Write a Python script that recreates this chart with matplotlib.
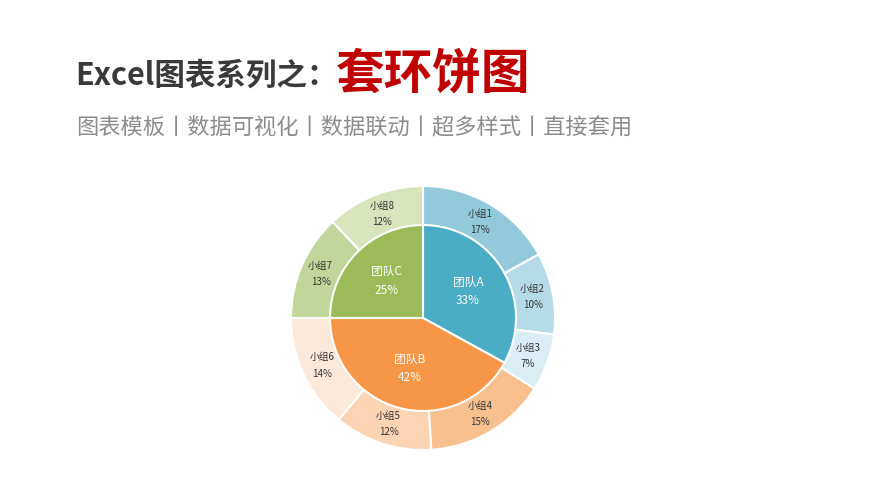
import matplotlib
matplotlib.use("Agg")
import matplotlib.pyplot as plt

plt.rcParams['font.family'] = ['Noto Sans CJK SC', 'DejaVu Sans']

teams = ["团队A", "团队B", "团队C"]
team_values = [33, 42, 25]
team_colors = ["#4BACC6", "#F79646", "#9BBB59"]

groups = ["小组1", "小组2", "小组3", "小组4", "小组5", "小组6", "小组7", "小组8"]
group_values = [17, 10, 7, 15, 12, 14, 13, 12]
group_colors = ["#92C9DB", "#B5DAE8", "#DAEDF4", "#F9C08F",
                "#FCD4B4", "#FDE9DA", "#C2D69C", "#D8E4BC"]

title_main = "Excel图表系列之："
title_red = "套环饼图"
subtitle = "图表模板丨数据可视化丨数据联动丨超多样式丨直接套用"

W, H = 889, 500
fig = plt.figure(figsize=(W / 100, H / 100), dpi=100)
fig.patch.set_facecolor("white")

# Titles
fig.text(75 / W, 1 - 76 / H, title_main, fontsize=22, fontweight="bold",
         color="#3A3A3A", ha="left", va="center")
fig.text(336 / W, 1 - 74 / H, title_red, fontsize=35, fontweight="bold",
         color="#C00000", ha="left", va="center")
fig.text(76 / W, 1 - 128 / H, subtitle, fontsize=16, color="#8C8C8C",
         ha="left", va="center")

# Pie axes: center (423, 318), outer radius 132 px
cx, cy, R = 423, 318, 132
ax = fig.add_axes([(cx - R) / W, (H - cy - R) / H, 2 * R / W, 2 * R / H])
ax.axis("off")

r_in = 93 / 132

wedges_o, texts_o = ax.pie(
    group_values, radius=1, startangle=90, counterclock=False,
    colors=group_colors,
    labels=[f"{g}\n{v}%" for g, v in zip(groups, group_values)],
    labeldistance=0.845,
    wedgeprops=dict(edgecolor="white", linewidth=1.5, clip_on=False),
    textprops=dict(fontsize=7, color="#333333", ha="center", va="center",
                   linespacing=1.8),
)

wedges_i, texts_i = ax.pie(
    team_values, radius=r_in, startangle=90, counterclock=False,
    colors=team_colors,
    labels=[f"{t}\n{v}%" for t, v in zip(teams, team_values)],
    labeldistance=0.56,
    wedgeprops=dict(edgecolor="white", linewidth=1.5),
    textprops=dict(fontsize=8.5, color="white", ha="center", va="center",
                   linespacing=1.55),
)
ax.set_xlim(-1, 1)
ax.set_ylim(-1, 1)
ax.set_aspect("equal")

fig.savefig("out.png", dpi=100, facecolor="white")
